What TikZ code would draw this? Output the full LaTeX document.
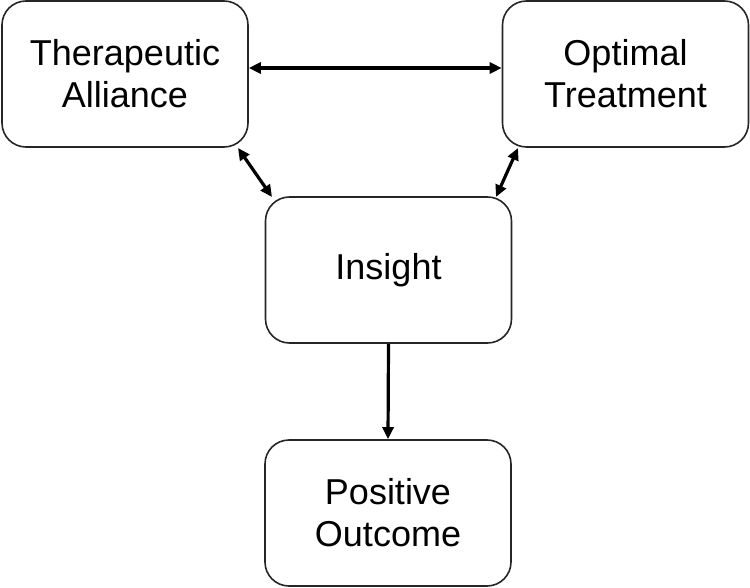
\documentclass[tikz,border=0pt]{standalone}
\usepackage{fontspec}
\setmainfont{Liberation Sans}
\usetikzlibrary{arrows.meta}
\begin{document}
\begin{tikzpicture}[x=1pt,y=-1pt,
  box/.style={draw=black!85,line width=1.6pt,rounded corners=24pt,minimum width=246pt,minimum height=146pt,align=center,inner sep=0pt,font=\fontsize{36}{42}\selectfont,anchor=center},
  conn/.style={line width=3.2pt,{Triangle[length=12pt,width=11pt]}-{Triangle[length=12pt,width=11pt]}},
  conn1/.style={line width=3.2pt,-{Triangle[length=12pt,width=11pt]}}]
\useasboundingbox (0,0) rectangle (750,588);
\node[box] (ta) at (125,74) {Therapeutic\\Alliance};
\node[box] (ot) at (625.5,74) {Optimal\\Treatment};
\node[box] (in) at (388.5,270) {Insight};
\node[box] (po) at (388,513) {Positive\\Outcome};
\draw[conn] (ta.east |- 0,68) -- (ot.west |- 0,68);
\draw[conn] (238,148) coordinate (a1) -- (272,197) coordinate (a2);
\draw[conn] (518,148) coordinate (b1) -- (496,197) coordinate (b2);
\draw[conn1] (in.south) -- (po.north);
\end{tikzpicture}
\end{document}
